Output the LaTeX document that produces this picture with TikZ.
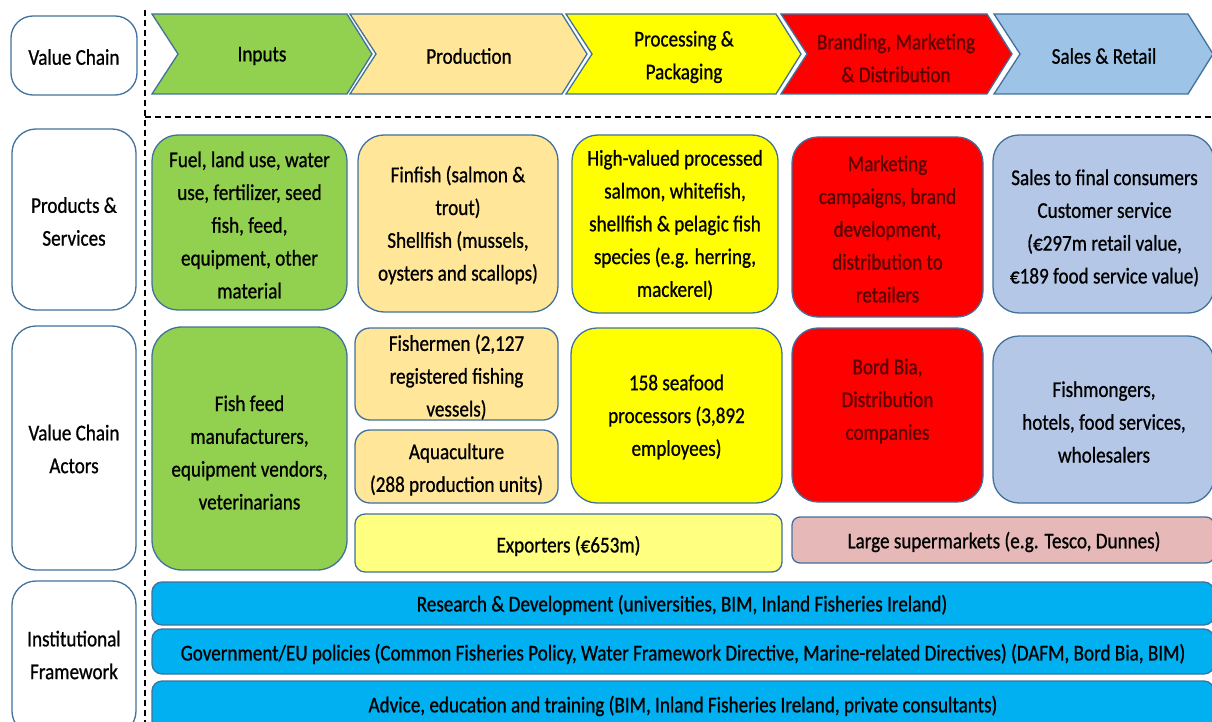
\documentclass[tikz,border=0pt]{standalone}
\usepackage{fontspec}
\setmainfont{Carlito}[FakeStretch=0.85,FakeBold=0.8]
\definecolor{bord}{HTML}{41719C}
\definecolor{cgreen}{HTML}{92D050}
\definecolor{cpeach}{HTML}{FFE699}
\definecolor{cyellow}{HTML}{FFFF00}
\definecolor{cred}{HTML}{FF0000}
\definecolor{cdarkred}{HTML}{5A0000}
\definecolor{cchevblue}{HTML}{9DC3E6}
\definecolor{cboxblue}{HTML}{B4C7E7}
\definecolor{cexport}{HTML}{FFFF80}
\definecolor{cpink}{HTML}{E6B9B8}
\definecolor{cbar}{HTML}{00B0F0}
\newcommand\chevshape[3]{\draw[chev, fill=#3] (#1,14) -- (#2,14) -- ({#2+25},54) -- (#2,94) -- (#1,94) -- ({#1+26},54) -- cycle;}
\begin{document}
\begin{tikzpicture}[x=1pt,y=-1pt,
  every node/.style={font=\fontsize{22.5}{32.8}\selectfont, align=center, inner sep=0pt, text=black},
  box/.style={draw=bord, line width=1.3pt, rounded corners=#1},
  box/.default=24pt,
  chev/.style={draw=bord, line width=1.3pt},
  guide/.style={line width=1.3pt, dash pattern=on 6pt off 4pt},
  redtxt/.style={text=cdarkred}
]
\useasboundingbox (0,0) rectangle (1212,722);
\clip (0,0) rectangle (1212,722);

% left labels
\node[box=22pt, fill=white, minimum width=126pt, minimum height=79pt] (lvc) at (74,55.5) {};
\node (lvct) at (74,57) {Value Chain};
\node[box=24pt, fill=white, minimum width=124pt, minimum height=181pt] (lps) at (74,219.5) {};
\node (lpst) at (74,221.5) {Products \&\\Services};
\node[box=24pt, fill=white, minimum width=124pt, minimum height=244pt] (lva) at (74,448) {};
\node (lvat) at (74,449) {Value Chain\\Actors};
\node[box=24pt, fill=white, minimum width=124pt, minimum height=154pt] (lif) at (74,658) {};
\node (lift) at (74,655) {Institutional\\Framework};

% guides
\coordinate (vtop) at (145,10);
\coordinate (vbot) at (145,722);
\coordinate (hl) at (145,117);
\coordinate (hr) at (1212,117);
\draw[guide] (vtop) -- (vbot);
\draw[guide] (hl) -- (hr);

% chevrons
\chevshape{152}{347}{cgreen}
\chevshape{350}{562}{cpeach}
\chevshape{566}{776}{cyellow}
\chevshape{781}{987}{cred}
\chevshape{994}{1188}{cchevblue}
\node (cin) at (262,56) {Inputs};
\node (cpr) at (469,56) {Production};
\node (cpp) at (684,57) {Processing \&\\Packaging};
\node[redtxt] (cbm) at (896,58) {Branding, Marketing\\\& Distribution};
\node (csr) at (1104,56) {Sales \& Retail};

% products & services
\node[box=26pt, fill=cgreen, minimum width=195pt, minimum height=175pt] (p1) at (249.5,222.5) {};
\node (p1t) at (249.5,225) {Fuel, land use, water\\use, fertilizer, seed\\fish, feed,\\equipment, other\\material};
\node[box=26pt, fill=cpeach, minimum width=200pt, minimum height=177pt] (p2) at (458,223.5) {};
\node (p2t) at (458,225) {Finfish (salmon \&\\trout)\\Shellfish (mussels,\\oysters and scallops)};
\node[box=26pt, fill=cyellow, minimum width=206pt, minimum height=178pt] (p3) at (675,224) {};
\node (p3t) at (675,225) {High-valued processed\\salmon, whitefish,\\shellfish \& pelagic fish\\species (e.g. herring,\\mackerel)};
\node[box=26pt, fill=cred, minimum width=191pt, minimum height=180pt] (p4) at (887.5,227) {};
\node[redtxt] (p4t) at (887.5,229) {Marketing\\campaigns, brand\\development,\\distribution to\\retailers};
\node[box=26pt, fill=cboxblue, minimum width=221pt, minimum height=178pt] (p5) at (1103.5,224) {};
\node (p5t) at (1104.5,228) {Sales to final consumers\\Customer service\\(€297m retail value,\\€189 food service value)};

% actors
\node[box=30pt, fill=cgreen, minimum width=195pt, minimum height=243pt] (a1) at (249.5,448.5) {};
\node (a1t) at (249.5,452.5) {Fish feed\\manufacturers,\\equipment vendors,\\veterinarians};
\node[box=15pt, fill=cpeach, minimum width=203pt, minimum height=92pt] (a2) at (456.5,374) {};
\node (a2t) at (456.5,377) {Fishermen (2,127\\registered fishing\\vessels)};
\node[box=15pt, fill=cpeach, minimum width=203pt, minimum height=73pt] (a3) at (456.5,466.5) {};
\node (a3t) at (456.5,469.5) {Aquaculture\\(288 production units)};
\node[box=26pt, fill=cyellow, minimum width=211pt, minimum height=175pt] (a4) at (676.5,415.5) {};
\node (a4t) at (676.5,417) {158 seafood\\processors (3,892\\employees)};
\node[box=26pt, fill=cred, minimum width=191pt, minimum height=174pt] (a5) at (887.5,415) {};
\node[redtxt] (a5t) at (887.5,401) {Bord Bia,\\Distribution\\companies};
\node[box=26pt, fill=cboxblue, minimum width=221pt, minimum height=167pt] (a6) at (1103.5,419.5) {};
\node (a6t) at (1104,422) {Fishmongers,\\hotels, food services,\\wholesalers};
\node[box=10pt, fill=cexport, minimum width=427pt, minimum height=58pt] (a7) at (568.5,543) {};
\node (a7t) at (568.5,546) {Exporters (€653m)};
\node[box=8pt, fill=cpink, minimum width=422pt, minimum height=46pt] (a8) at (1003,540) {};
\node (a8t) at (1004,542) {Large supermarkets (e.g. Tesco, Dunnes)};

% institutional bars
\node[box=10pt, fill=cbar, minimum width=1062pt, minimum height=43pt] (b1) at (683,603.5) {};
\node (b1t) at (682,605) {Research \& Development (universities, BIM, Inland Fisheries Ireland)};
\node[box=10pt, fill=cbar, minimum width=1062pt, minimum height=45pt] (b2) at (683,651.5) {};
\node (b2t) at (683,654) {Government/EU policies (Common Fisheries Policy, Water Framework Directive, Marine-related Directives) (DAFM, Bord Bia, BIM)};
\node[box=10pt, fill=cbar, minimum width=1062pt, minimum height=54pt] (b3) at (683,708) {};
\node (b3t) at (683,706) {Advice, education and training (BIM, Inland Fisheries Ireland, private consultants)};
\end{tikzpicture}
\end{document}
